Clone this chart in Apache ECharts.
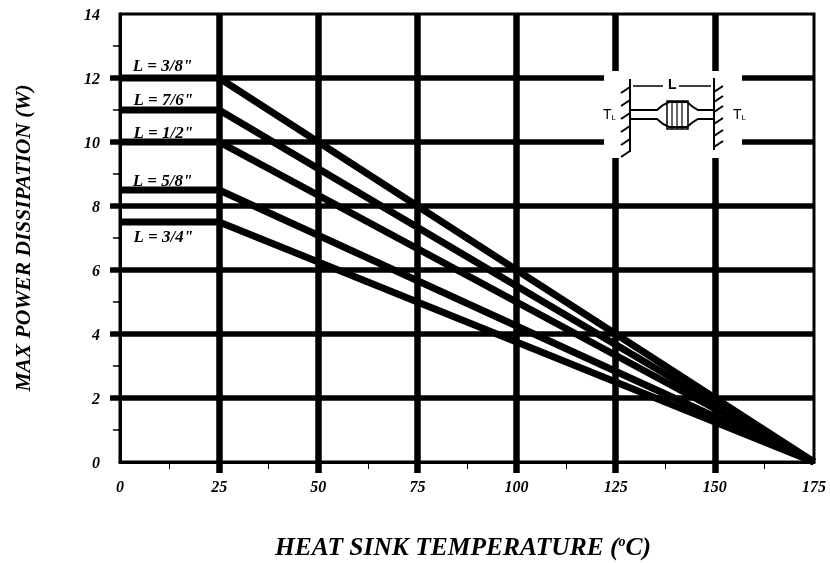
<!DOCTYPE html>
<html><head><meta charset="utf-8">
<style>html,body{margin:0;padding:0;background:#fff}#c{width:830px;height:563px}</style>
<script src="https://cdn.jsdelivr.net/npm/echarts@6/dist/echarts.min.js"></script>
</head><body><div id="c"></div>
<script>
const seriesNames = ['L = 3/8"', 'L = 7/6"', 'L = 1/2"', 'L = 5/8"', 'L = 3/4"'];
const flatPower = [12, 11, 10, 8.5, 7.5];
const kneeTemp = 25;
const zeroTemp = 175;
const labelTemp = [3.2, 3.4, 3.4, 3.2, 3.4];
const labelPower = [12.35, 11.3, 10.25, 8.75, 7.0];
const xTicks = [25, 50, 75, 100, 125, 150];
const yTicks = [2, 4, 6, 8, 10, 12];
const serif = '"Liberation Serif","Times New Roman",serif';
const sans = '"Liberation Sans",Arial,sans-serif';
const ink = '#000';

const hatch = (x, ys, dir) => ys.map(y => ({
  type: 'line', z: 101,
  shape: {x1: x, y1: y, x2: x + dir * 9, y2: y + (dir < 0 ? 6 : -6)},
  style: {stroke: ink, lineWidth: 2}
}));
const tl = (x, y) => ({type: 'text', z: 101, x, y, style: {
  rich: {s: {fontSize: 8, fontFamily: sans, fill: ink, verticalAlign: 'bottom'}, b: {fontSize: 14, fontFamily: sans, fill: ink}},
  text: '{b|T}{s|L}'}});
const inset = [
  {type: 'rect', z: 100, shape: {x: 604, y: 71, width: 138, height: 87}, style: {fill: '#fff'}},
  {type: 'line', z: 101, shape: {x1: 630, y1: 79, x2: 630, y2: 152}, style: {stroke: ink, lineWidth: 2}},
  {type: 'line', z: 101, shape: {x1: 714, y1: 78, x2: 714, y2: 150}, style: {stroke: ink, lineWidth: 2}},
  ...hatch(630, [87, 100, 113, 126, 139, 151], -1),
  ...hatch(714, [92, 102, 112, 124, 136, 147], 1),
  {type: 'polyline', z: 101, shape: {points: [[630,110],[657,110],[663,105],[669,102],[687,102],[693,107],[698,110],[714,110]]}, style: {stroke: ink, fill: null, lineWidth: 2}},
  {type: 'polyline', z: 101, shape: {points: [[630,119],[657,119],[663,124],[669,127],[687,127],[693,122],[698,119],[714,119]]}, style: {stroke: ink, fill: null, lineWidth: 2}},
  {type: 'rect', z: 101, shape: {x: 667, y: 101, width: 21, height: 28}, style: {stroke: ink, fill: null, lineWidth: 1.5}},
  {type: 'line', z: 101, shape: {x1: 672, y1: 101, x2: 672, y2: 129}, style: {stroke: ink, lineWidth: 1.2}},
  {type: 'line', z: 101, shape: {x1: 677, y1: 101, x2: 677, y2: 129}, style: {stroke: ink, lineWidth: 1.2}},
  {type: 'line', z: 101, shape: {x1: 682, y1: 101, x2: 682, y2: 129}, style: {stroke: ink, lineWidth: 1.2}},
  {type: 'line', z: 101, shape: {x1: 633, y1: 86, x2: 663, y2: 86}, style: {stroke: ink, lineWidth: 1.5}},
  {type: 'line', z: 101, shape: {x1: 679, y1: 86, x2: 711, y2: 86}, style: {stroke: ink, lineWidth: 1.5}},
  {type: 'text', z: 101, x: 668, y: 78, style: {text: 'L', font: 'bold 14px ' + sans, fill: ink}},
  tl(603, 108),
  tl(733, 108)
];

const series = seriesNames.map((name, i) => ({
  name, type: 'line', symbol: 'none', animation: false, silent: true,
  lineStyle: {color: ink, width: 7, join: 'miter'},
  data: [[0, flatPower[i]], [kneeTemp, flatPower[i]], [zeroTemp, 0]],
  markPoint: {
    symbol: 'circle', symbolSize: 0, animation: false, silent: true,
    data: [{
      coord: [labelTemp[i], labelPower[i]],
      label: {show: true, position: 'right', distance: 0, formatter: name, color: ink,
        fontFamily: serif, fontStyle: 'italic', fontWeight: 'bold', fontSize: 17}
    }]
  }
}));

const chart = echarts.init(document.getElementById('c'), null, {renderer: 'canvas'});
chart.setOption({
  animation: false,
  backgroundColor: '#fff',
  grid: {left: 120, right: 16, top: 14, bottom: 101, outerBoundsMode: 'none', show: true, borderColor: ink, borderWidth: 3, backgroundColor: 'transparent'},
  xAxis: {
    type: 'value', min: 0, max: 175, interval: 25,
    name: 'HEAT SINK TEMPERATURE ({s|o}C)', nameLocation: 'middle', nameGap: 73,
    nameTextStyle: {color: ink, fontFamily: serif, fontStyle: 'italic', fontWeight: 'bold', fontSize: 25.5, padding: [0, 8, 0, 0],
      rich: {s: {fontSize: 14, fontFamily: serif, fontStyle: 'italic', fontWeight: 'bold', color: ink, verticalAlign: 'top', lineHeight: 14}}},
    axisLine: {show: true, onZero: false, lineStyle: {color: ink, width: 3}},
    axisTick: {show: true, customValues: xTicks, length: 11, lineStyle: {color: ink, width: 6.5}},
    minorTick: {show: true, splitNumber: 2, length: 7, lineStyle: {color: ink, width: 1}},
    axisLabel: {margin: 18, color: ink, fontFamily: serif, fontStyle: 'italic', fontWeight: 'bold', fontSize: 16, showMinLabel: true, showMaxLabel: true},
    splitLine: {show: true, showMinLine: true, showMaxLine: true, lineStyle: {color: ink, width: 6.5}}
  },
  yAxis: {
    type: 'value', min: 0, max: 14, interval: 2,
    name: 'MAX POWER DISSIPATION (W)', nameLocation: 'middle', nameGap: 85,
    nameTextStyle: {color: ink, fontFamily: serif, fontStyle: 'italic', fontWeight: 'bold', fontSize: 21.5},
    axisLine: {show: true, onZero: false, lineStyle: {color: ink, width: 3}},
    axisTick: {show: true, customValues: yTicks, length: 10, lineStyle: {color: ink, width: 5.5}},
    minorTick: {show: true, splitNumber: 2, length: 7, lineStyle: {color: ink, width: 1.5}},
    axisLabel: {margin: 20, color: ink, formatter: v => '{n|' + v + '}',
      rich: {n: {padding: [4, 0, 0, 0], color: ink, fontFamily: serif, fontStyle: 'italic', fontWeight: 'bold', fontSize: 16}}},
    splitLine: {show: true, showMinLine: true, showMaxLine: true, lineStyle: {color: ink, width: 5.5}}
  },
  series,
  graphic: {elements: inset}
});
</script></body></html>
